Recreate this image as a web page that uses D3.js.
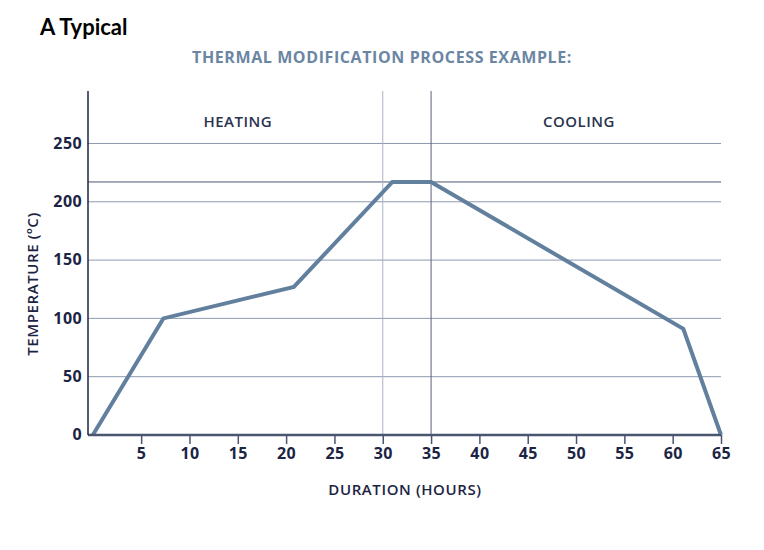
<!DOCTYPE html>
<html><head><meta charset="utf-8">
<script src="https://cdn.jsdelivr.net/npm/d3@7"></script>
<style>body{margin:0;background:#fff}</style>
</head><body>
<script>
const hours = [0, 7.3, 20.8, 31, 35, 61.1, 65];
const temps = [0, 100, 127, 217, 217, 91, 0];
const xTicks = [5,10,15,20,25,30,35,40,45,50,55,60,65];
const yTicks = [0,50,100,150,200,250];
const phaseLines = [30, 35];
const plateauTemp = 217;
const phases = [{label:"HEATING", at:15.0}, {label:"COOLING", at:50.3}];

const W=764,H=550;
const svg=d3.select("body").append("svg").attr("width",W).attr("height",H);
const x=d3.scaleLinear().domain([-0.5,65]).range([88,721]);
const y=d3.scaleLinear().domain([0,295]).range([435,91]);
const navy="#1c2444";
const font="'Open Sans', sans-serif";

svg.append("text").attr("x",40).attr("y",35).text("A Typical")
  .attr("font-family","Lato, sans-serif").attr("font-weight",700).attr("font-size",22).attr("fill","#000");
svg.append("text").attr("x",382).attr("y",63).attr("text-anchor","middle").text("THERMAL MODIFICATION PROCESS EXAMPLE:")
  .attr("font-family",font).attr("font-weight",700).attr("font-size",16).attr("fill","#6b86a3").attr("letter-spacing",0.6);

// gridlines
const grid=svg.append("g");
yTicks.filter(d=>d>0).forEach(v=>{
  grid.append("line").attr("x1",88).attr("x2",721).attr("y1",y(v)).attr("y2",y(v))
    .attr("stroke","#8c9ab0").attr("stroke-width",1);
});
grid.append("line").attr("x1",88).attr("x2",721).attr("y1",y(plateauTemp)).attr("y2",y(plateauTemp))
  .attr("stroke","#4a5670").attr("stroke-width",1);
phaseLines.forEach((v,i)=>{
  grid.append("line").attr("x1",x(v)).attr("x2",x(v)).attr("y1",91).attr("y2",435)
    .attr("stroke",i===0?"#aab3c4":"#5a6478").attr("stroke-width",1);
});

phases.forEach(p=>{
  svg.append("text").attr("x",x(p.at)).attr("y",127).attr("text-anchor","middle").text(p.label)
    .attr("font-family",font).attr("font-weight",600).attr("font-size",15).attr("fill","#2a3350").attr("letter-spacing",0.5);
});

// line
svg.append("path").datum(hours.map((h,i)=>[h,temps[i]]))
  .attr("d",d3.line().x(d=>x(d[0])).y(d=>y(d[1])))
  .attr("fill","none").attr("stroke","#62809e").attr("stroke-width",4).attr("stroke-linejoin","miter");

// x axis
const xa=svg.append("g").attr("transform","translate(0,435)")
  .call(d3.axisBottom(x).tickValues(xTicks).tickSize(9).tickSizeOuter(0).tickPadding(4));
xa.select(".domain").attr("d",`M88,0H721`).attr("stroke","#4a5670").attr("stroke-width",2.5);
xa.selectAll(".tick line").attr("stroke","#4a5670").attr("stroke-width",1.5);
xa.selectAll(".tick text").attr("font-family",font).attr("font-weight",700).attr("font-size",16).attr("fill",navy)
  .attr("letter-spacing",0.4);

// y axis
const ya=svg.append("g").attr("transform","translate(88,0)")
  .call(d3.axisLeft(y).tickValues(yTicks).tickSize(0).tickPadding(6));
ya.select(".domain").attr("d",`M0,91V435`).attr("stroke",navy).attr("stroke-width",1.5);
ya.selectAll(".tick text").attr("font-family",font).attr("font-weight",700).attr("font-size",16).attr("fill",navy)
  .attr("letter-spacing",0.4).attr("dy","0.3em");

svg.append("text").attr("transform","translate(38,284) rotate(-90)").attr("text-anchor","middle")
  .text("TEMPERATURE (ºC)").attr("font-family",font).attr("font-weight",600).attr("font-size",15).attr("fill",navy)
  .attr("letter-spacing",0.6);
svg.append("text").attr("x",405).attr("y",495).attr("text-anchor","middle")
  .text("DURATION (HOURS)").attr("font-family",font).attr("font-weight",600).attr("font-size",15).attr("fill",navy)
  .attr("letter-spacing",0.6);
</script>
</body></html>
